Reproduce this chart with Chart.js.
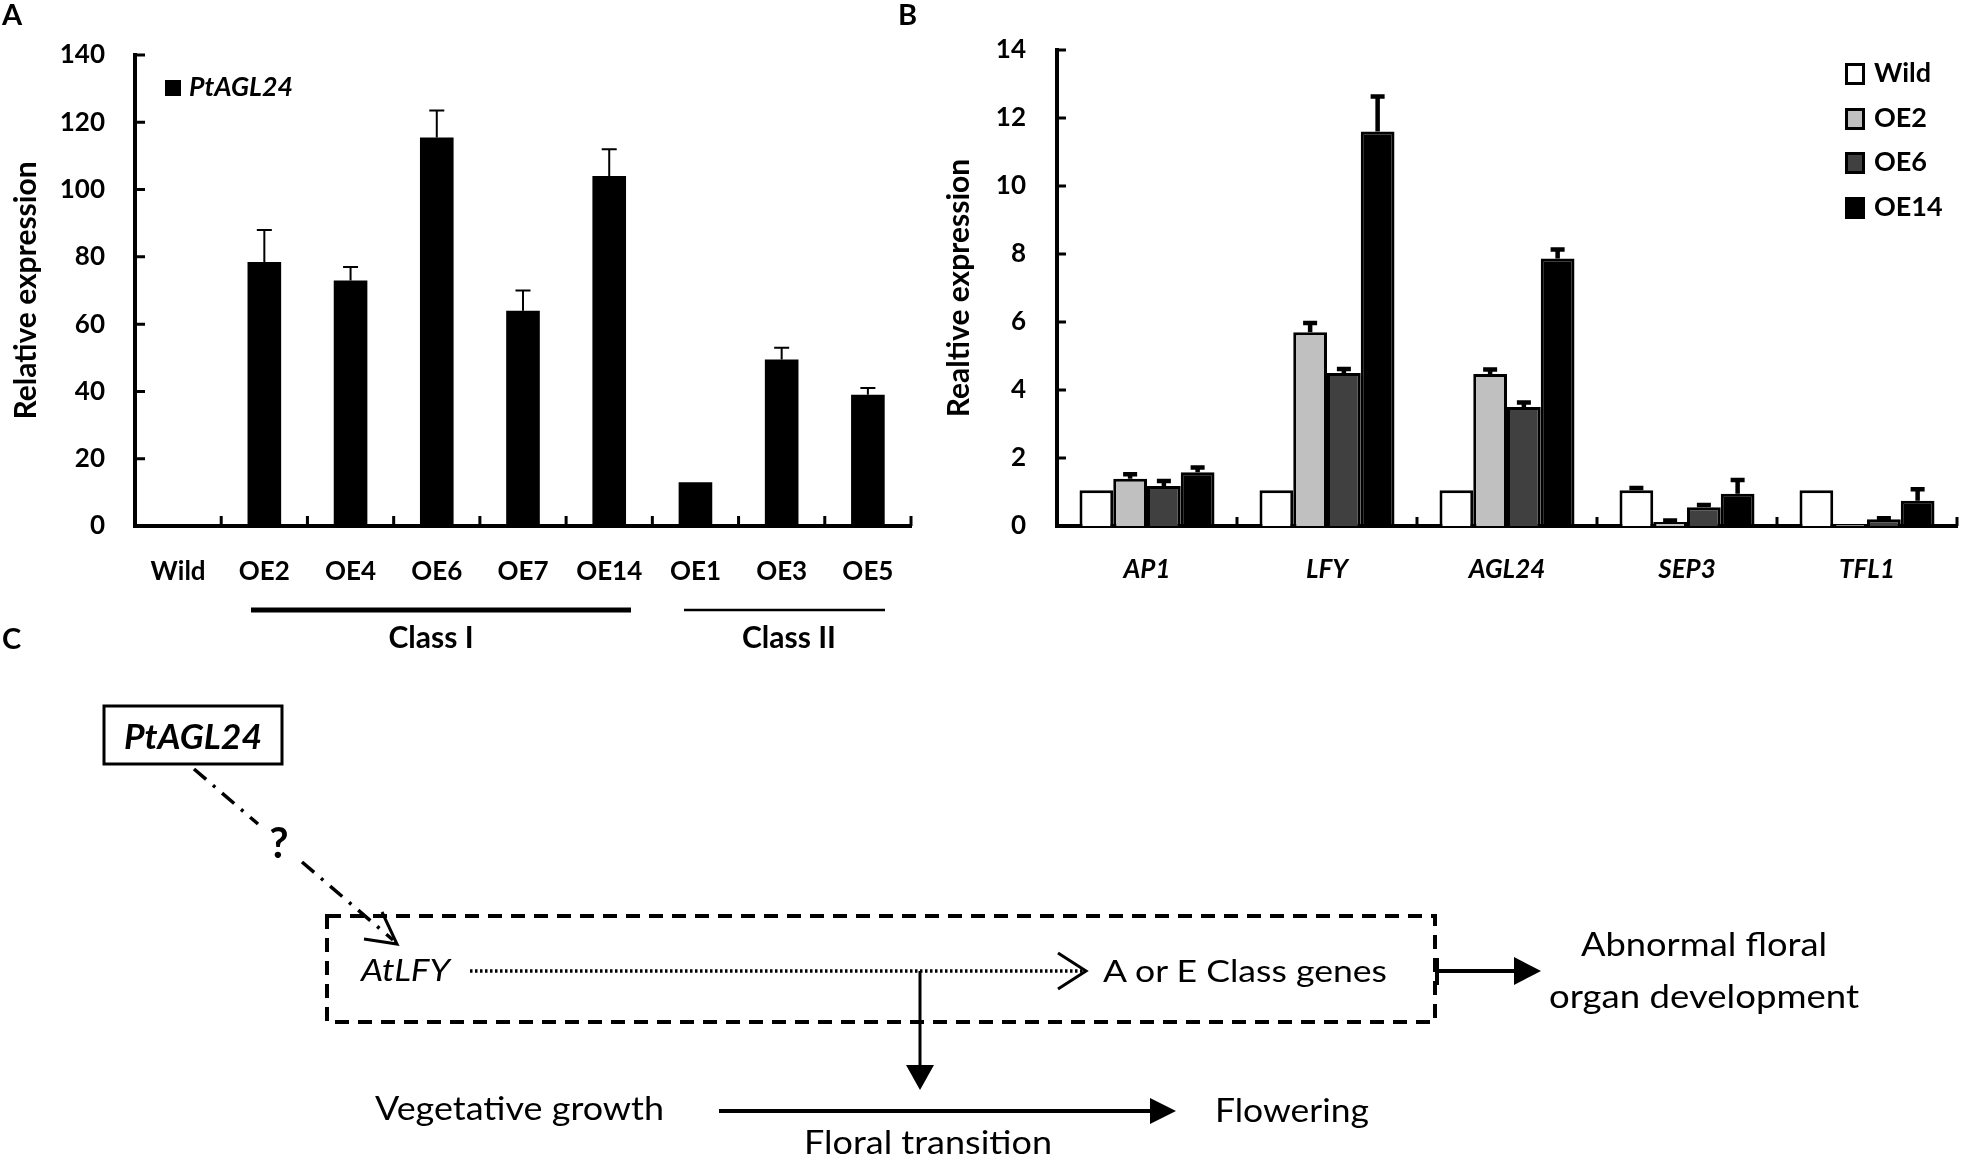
<!DOCTYPE html>
<html>
<head>
<meta charset="utf-8">
<script src="https://cdn.jsdelivr.net/npm/chart.js@4"></script>
<style>
  html, body { margin: 0; padding: 0; background: #fff; }
  #page { position: relative; width: 1963px; height: 1161px; overflow: hidden; font-family: Lato, "Open Sans", sans-serif; }
  canvas { position: absolute; top: 0; }
  #chartA { left: 0; }
  #chartB { left: 930px; }
  svg { position: absolute; left: 0; top: 0; }
</style>
</head>
<body>
<div id="page">
  <canvas id="chartA" width="930" height="620"></canvas>
  <canvas id="chartB" width="1033" height="620"></canvas>
  <svg width="1963" height="1161" font-family="Lato, 'Open Sans', sans-serif">
    <!-- panel letters -->
    <text x="2" y="25" font-size="29" font-weight="bold">A</text>
    <text x="898" y="25" font-size="29" font-weight="bold">B</text>
    <text x="2" y="649" font-size="29" font-weight="bold">C</text>

    <!-- legend A -->
    <rect x="165" y="80" width="16" height="16" fill="#000"/>
    <text x="189" y="96" font-size="26" font-weight="bold" font-style="italic" textLength="104" lengthAdjust="spacingAndGlyphs">PtAGL24</text>

    <!-- class brackets under A -->
    <line x1="251" y1="610" x2="631" y2="610" stroke="#000" stroke-width="5"/>
    <line x1="684" y1="610" x2="885" y2="610" stroke="#000" stroke-width="2.5"/>
    <text x="431" y="648" font-size="30" font-weight="bold" text-anchor="middle">Class I</text>
    <text x="789" y="648" font-size="30" font-weight="bold" text-anchor="middle">Class II</text>

    <!-- legend B -->
    <g stroke="#000" stroke-width="3">
      <rect x="1846.5" y="64.5" width="17" height="19" fill="#fff"/>
      <rect x="1846.5" y="109.5" width="17" height="19" fill="#c0c0c0"/>
      <rect x="1846.5" y="153.5" width="17" height="19" fill="#404040"/>
      <rect x="1846.5" y="198.5" width="17" height="19" fill="#000"/>
    </g>
    <g font-size="27" font-weight="bold">
      <text x="1874" y="82">Wild</text>
      <text x="1874" y="127">OE2</text>
      <text x="1874" y="171">OE6</text>
      <text x="1874" y="216">OE14</text>
    </g>

    <!-- panel C diagram -->
    <rect x="104" y="706" width="178" height="58" fill="none" stroke="#000" stroke-width="3"/>
    <text x="193" y="749" font-size="34" font-weight="bold" font-style="italic" text-anchor="middle" textLength="138" lengthAdjust="spacingAndGlyphs">PtAGL24</text>
    <g stroke="#000" stroke-width="3.5" stroke-dasharray="16 9 3 9">
      <line x1="194" y1="769" x2="258" y2="824"/>
      <line x1="302" y1="862" x2="393" y2="940"/>
    </g>
    <polyline points="364,939 397,944 382,912" fill="none" stroke="#000" stroke-width="3"/>
    <text x="279" y="858" font-size="42" font-weight="bold" text-anchor="middle">?</text>

    <rect x="327" y="916" width="1108" height="106" fill="none" stroke="#000" stroke-width="4" stroke-dasharray="14 9"/>
    <text x="361" y="981" font-size="31" font-style="italic" textLength="89" lengthAdjust="spacingAndGlyphs">AtLFY</text>
    <line x1="470" y1="971" x2="1084" y2="971" stroke="#000" stroke-width="3.5" stroke-dasharray="2.5 2.5"/>
    <polyline points="1058,953 1086,971 1058,989" fill="none" stroke="#000" stroke-width="3"/>
    <text x="1103" y="982" font-size="31" textLength="284" lengthAdjust="spacingAndGlyphs">A or E Class genes</text>

    <line x1="920" y1="971" x2="920" y2="1068" stroke="#000" stroke-width="3"/>
    <polygon points="906,1065 934,1065 920,1090" fill="#000"/>

    <line x1="1437" y1="958" x2="1437" y2="985" stroke="#000" stroke-width="4"/>
    <line x1="1437" y1="971" x2="1517" y2="971" stroke="#000" stroke-width="4"/>
    <polygon points="1514,957 1514,985 1541,971" fill="#000"/>
    <text x="1704" y="956" font-size="32" text-anchor="middle" textLength="246" lengthAdjust="spacingAndGlyphs">Abnormal floral</text>
    <text x="1704" y="1008" font-size="32" text-anchor="middle" textLength="310" lengthAdjust="spacingAndGlyphs">organ development</text>

    <text x="375" y="1120" font-size="32" textLength="289" lengthAdjust="spacingAndGlyphs">Vegetative growth</text>
    <line x1="719" y1="1111" x2="1152" y2="1111" stroke="#000" stroke-width="4"/>
    <polygon points="1150,1098 1150,1124 1176,1111" fill="#000"/>
    <text x="1215" y="1122" font-size="32" textLength="154" lengthAdjust="spacingAndGlyphs">Flowering</text>
    <text x="804" y="1154" font-size="32" textLength="248" lengthAdjust="spacingAndGlyphs">Floral transition</text>
  </svg>
</div>
<script>
// Panel A: PtAGL24 expression in transgenic lines
const linesA = ["Wild", "OE2", "OE4", "OE6", "OE7", "OE14", "OE1", "OE3", "OE5"];
const exprA = [0.5, 78.5, 73, 115.5, 64, 104, 13, 49.5, 39];
const errA = [0, 9.5, 4, 8, 6, 8, 0, 3.5, 2];

// Panel B: floral genes in wild type and three OE lines
const genesB = ["AP1", "LFY", "AGL24", "SEP3", "TFL1"];
const wildB = [1.05, 1.05, 1.05, 1.05, 1.05];
const wildErr = [0, 0, 0, 0.07, 0];
const oe2B = [1.39, 5.7, 4.47, 0.12, 0.04];
const oe2Err = [0.13, 0.27, 0.13, 0.04, 0];
const oe6B = [1.18, 4.5, 3.5, 0.55, 0.2];
const oe6Err = [0.14, 0.12, 0.13, 0.07, 0.03];
const oe14B = [1.58, 11.6, 7.87, 0.95, 0.74];
const oe14Err = [0.14, 1.03, 0.26, 0.4, 0.34];

const FONT = "Lato, 'Open Sans', sans-serif";

// error bars on top of each bar
const errorBars = {
  id: "errorBars",
  afterDatasetsDraw(chart, args, opts) {
    const { ctx } = chart;
    const y = chart.scales.y;
    chart.data.datasets.forEach((ds, i) => {
      const meta = chart.getDatasetMeta(i);
      ctx.save();
      ctx.strokeStyle = "#000";
      ctx.lineWidth = opts.width;
      ctx.beginPath();
      meta.data.forEach((bar, j) => {
        const e = ds.errors[j];
        if (!e) return;
        const top = y.getPixelForValue(ds.data[j] + e);
        ctx.moveTo(bar.x, bar.y);
        ctx.lineTo(bar.x, top);
        ctx.moveTo(bar.x - opts.cap / 2, top);
        ctx.lineTo(bar.x + opts.cap / 2, top);
      });
      ctx.stroke();
      ctx.restore();
    });
  },
};

// tick marks pointing into the plot area
const innerTicks = {
  id: "innerTicks",
  afterDraw(chart, args, opts) {
    const { ctx, chartArea: a } = chart;
    const { x, y } = chart.scales;
    const step = x.getPixelForValue(1) - x.getPixelForValue(0);
    ctx.save();
    ctx.strokeStyle = "#000";
    ctx.lineWidth = opts.width;
    ctx.beginPath();
    y.ticks.forEach((t) => {
      const py = y.getPixelForValue(t.value);
      ctx.moveTo(a.left, py);
      ctx.lineTo(a.left + opts.len, py);
    });
    x.ticks.forEach((t, i) => {
      const px = x.getPixelForValue(i) + step / 2;
      ctx.moveTo(px, a.bottom);
      ctx.lineTo(px, a.bottom - opts.len);
    });
    ctx.stroke();
    ctx.restore();
  },
};

new Chart(document.getElementById("chartA"), {
  type: "bar",
  data: {
    labels: linesA,
    datasets: [
      {
        label: "PtAGL24",
        data: exprA,
        errors: errA,
        backgroundColor: "#000",
        borderWidth: 0,
        barPercentage: 0.39,
        categoryPercentage: 1,
      },
    ],
  },
  options: {
    responsive: false,
    animation: false,
    layout: { padding: { top: 55, right: 19, left: 0, bottom: 0 } },
    plugins: {
      legend: { display: false },
      tooltip: { enabled: false },
      errorBars: { width: 2, cap: 15 },
      innerTicks: { width: 3, len: 10 },
    },
    scales: {
      x: {
        z: 1,
        grid: { display: false, drawTicks: false },
        border: { color: "#000", width: 4 },
        ticks: { color: "#000", padding: 30, font: { family: FONT, size: 26, weight: "bold" } },
        afterFit: (s) => { s.height = 94; },
      },
      y: {
        min: 0,
        max: 140,
        grid: { display: false, drawTicks: false },
        border: { color: "#000", width: 4 },
        ticks: { stepSize: 20, color: "#000", padding: 30, font: { family: FONT, size: 26, weight: "bold" } },
        title: {
          display: true,
          text: "Relative expression",
          color: "#000",
          padding: 8,
          font: { family: FONT, size: 30, weight: "bold" },
        },
        afterFit: (s) => { s.width = 135; },
      },
    },
  },
  plugins: [errorBars, innerTicks],
});

const barStyle = { borderColor: "#000", borderWidth: 3, barPercentage: 1, categoryPercentage: 0.75 };

new Chart(document.getElementById("chartB"), {
  type: "bar",
  data: {
    labels: genesB,
    datasets: [
      { label: "Wild", data: wildB, errors: wildErr, backgroundColor: "#fff", ...barStyle },
      { label: "OE2", data: oe2B, errors: oe2Err, backgroundColor: "#c0c0c0", ...barStyle },
      { label: "OE6", data: oe6B, errors: oe6Err, backgroundColor: "#404040", ...barStyle },
      { label: "OE14", data: oe14B, errors: oe14Err, backgroundColor: "#000", ...barStyle },
    ],
  },
  options: {
    responsive: false,
    animation: false,
    layout: { padding: { top: 50, right: 6, left: 0, bottom: 0 } },
    plugins: {
      legend: { display: false },
      tooltip: { enabled: false },
      errorBars: { width: 4.5, cap: 14 },
      innerTicks: { width: 3, len: 9 },
    },
    scales: {
      x: {
        z: 1,
        grid: { display: false, drawTicks: false },
        border: { color: "#000", width: 4 },
        ticks: { color: "#000", padding: 28, font: { family: FONT, size: 26, weight: "bold", style: "italic" } },
        afterFit: (s) => { s.height = 94; },
      },
      y: {
        min: 0,
        max: 14,
        grid: { display: false, drawTicks: false },
        border: { color: "#000", width: 4 },
        ticks: { stepSize: 2, color: "#000", padding: 31, font: { family: FONT, size: 26, weight: "bold" } },
        title: {
          display: true,
          text: "Realtive expression",
          color: "#000",
          padding: 11,
          font: { family: FONT, size: 30, weight: "bold" },
        },
        afterFit: (s) => { s.width = 127; },
      },
    },
  },
  plugins: [errorBars, innerTicks],
});
</script>
</body>
</html>
